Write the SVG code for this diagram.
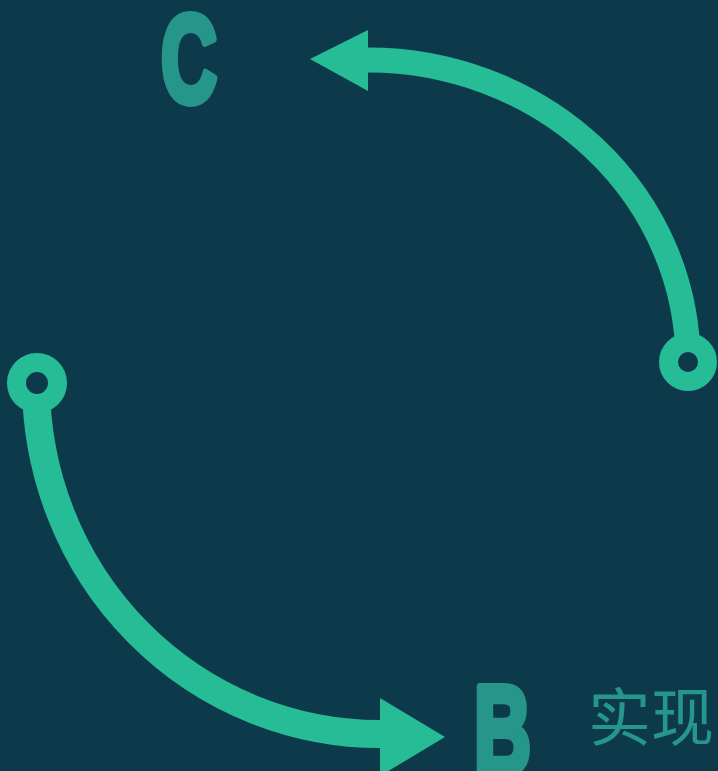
<svg xmlns="http://www.w3.org/2000/svg" width="718" height="771" viewBox="0 0 718 771">
  <style>
    .arc { fill: none; stroke: #26bd96; }
    .head { fill: #26bd96; }
    .ring { fill: #0d3a4a; stroke: #26bd96; }
    .letter { font-family: "Liberation Sans", "DejaVu Sans", sans-serif; font-weight: bold; font-size: 124px; fill: #26968a; stroke: #26968a; stroke-width: 8; stroke-linejoin: round; }
    .label { font-family: "Noto Sans CJK SC", "Noto Sans", sans-serif; font-size: 63px; fill: #26968a; }
  </style>
  <rect width="718" height="771" fill="#0d3a4a"/>
  <g id="connectors">
    <g id="arc-top">
      <path class="arc" stroke-width="25" d="M 688 362 A 320 302 0 0 0 368 60"/>
      <polygon class="head" points="368,30 310,59 368,91"/>
      <circle class="ring" cx="688" cy="362" r="19.5" stroke-width="19"/>
    </g>
    <g id="arc-bottom">
      <path class="arc" stroke-width="28" d="M 36 383 A 344 351 0 0 0 382 734"/>
      <polygon class="head" points="380,698 445,737 380,776"/>
      <circle class="ring" cx="37" cy="383" r="20.5" stroke-width="19"/>
    </g>
  </g>
  <g id="node-C">
    <text class="letter" x="161" y="102" textLength="56" lengthAdjust="spacingAndGlyphs">C</text>
  </g>
  <g id="node-B">
    <text class="letter" x="474" y="773" textLength="57" lengthAdjust="spacingAndGlyphs">B</text>
  </g>
  <g id="label-shixian">
    <text class="label" x="588" y="740">实现</text>
  </g>
</svg>
